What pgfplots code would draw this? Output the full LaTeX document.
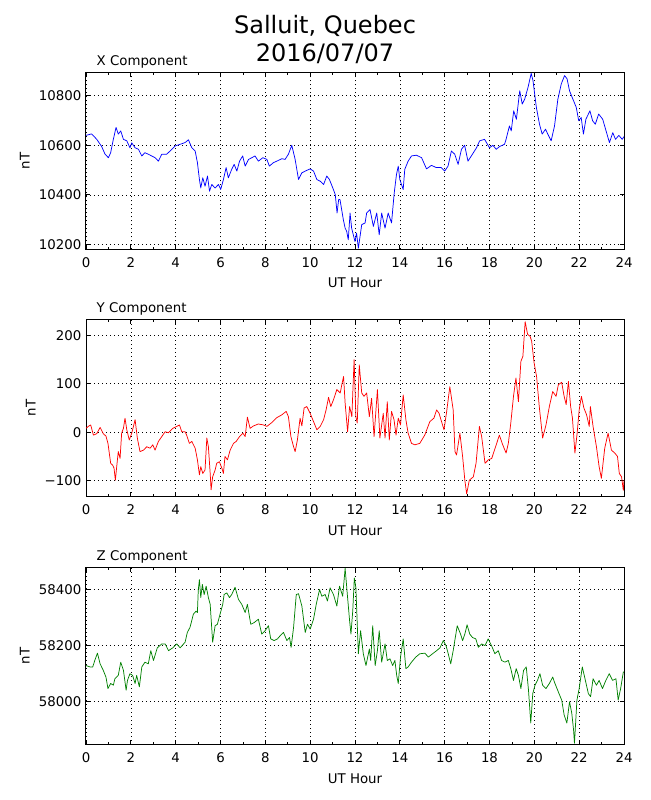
\documentclass[border=0pt]{standalone}
\usepackage{pgfplots}
\pgfplotsset{compat=1.18}
\usepackage{fontspec}
\setmainfont{DejaVu Sans}
\definecolor{mplgreen}{rgb}{0,0.5,0}
\pgfplotsset{
  magstyle/.style={
    scale only axis,
    width=403.5pt, height=133pt,
    anchor=south west,
    xmin=0, xmax=24,
    scaled y ticks=false, scaled x ticks=false,
    xtick={0,2,...,24},
    xticklabels={0,2,4,6,8,10,12,14,16,18,20,22,24},
    minor xtick={1,3,...,23},
    grid=major,
    major grid style={black, line width=0.5pt, dash pattern=on 0.75pt off 2.25pt},
    tick align=inside,
    major tick length=3.3pt,
    minor tick length=1.8pt,
    tick style={black, line width=0.6pt},
    axis line style={line width=0.75pt},
    font=\fontsize{10}{12}\selectfont,
    ticklabel style={font=\fontsize{10}{12}\selectfont},
    xticklabel style={yshift=-2.5pt},
    xlabel={UT Hour},
    xlabel style={at={(axis description cs:0.5,0)}, anchor=base, yshift=-28.9pt},
    ylabel={nT},
    every axis title/.style={at={(axis description cs:0,1)}, anchor=base west, xshift=4.5pt, yshift=5.3pt, font=\fontsize{10}{12}\selectfont},
    every axis plot/.append style={line width=0.55pt, line join=round},
  }
}
\begin{document}
\begin{tikzpicture}
\useasboundingbox (0,0) rectangle (487.5pt,600pt);
\node[anchor=base, font=\fontsize{18}{20}\selectfont] at (243.75pt,574.5pt) {Salluit, Quebec};
\node[anchor=base, font=\fontsize{18}{20}\selectfont] at (243.75pt,554.2pt) {2016/07/07};

\begin{axis}[magstyle, at={(64.5pt,412.9pt)},
  ymin=10180, ymax=10895,
  ytick={10200,10400,10600,10800},
  yticklabels={10200,10400,10600,10800},
  title={X Component}]
\addplot[blue] coordinates {
(0.00,10640) (0.25,10646) (0.48,10624) (0.70,10595) (0.85,10564) (1.00,10550) (1.10,10570) (1.22,10624) (1.34,10672) (1.44,10645) (1.55,10658) (1.67,10624) (1.82,10618) (1.96,10590) (2.04,10610) (2.19,10590) (2.34,10584) (2.49,10557) (2.63,10570) (2.78,10564) (2.93,10557) (3.08,10550) (3.23,10536) (3.38,10564) (3.60,10564) (3.75,10577) (3.97,10597) (4.20,10604) (4.42,10611) (4.57,10622) (4.72,10590) (4.87,10577) (4.97,10530) (5.06,10462) (5.12,10428) (5.21,10469) (5.31,10435) (5.42,10476) (5.51,10415) (5.61,10442) (5.76,10428) (5.91,10442) (6.01,10422) (6.13,10462) (6.25,10510) (6.35,10469) (6.50,10503) (6.61,10523) (6.73,10496) (6.85,10536) (6.99,10557) (7.10,10516) (7.25,10543) (7.40,10550) (7.54,10557) (7.69,10536) (7.89,10550) (8.07,10543) (8.18,10516) (8.36,10530) (8.51,10536) (8.74,10546) (8.88,10543) (9.03,10564) (9.18,10600) (9.33,10543) (9.48,10462) (9.63,10489) (9.78,10496) (10.00,10505) (10.15,10496) (10.30,10462) (10.45,10455) (10.60,10442) (10.74,10476) (10.86,10462) (11.01,10428) (11.12,10401) (11.20,10327) (11.27,10381) (11.33,10381) (11.48,10300) (11.56,10266) (11.63,10253) (11.70,10219) (11.78,10327) (11.85,10266) (12.00,10212) (12.07,10246) (12.15,10185) (12.30,10280) (12.45,10287) (12.52,10327) (12.67,10341) (12.82,10273) (12.97,10327) (13.08,10239) (13.19,10327) (13.34,10266) (13.48,10327) (13.63,10287) (13.75,10408) (13.85,10482) (13.93,10516) (14.00,10462) (14.15,10422) (14.22,10503) (14.37,10536) (14.52,10557) (14.74,10560) (14.97,10550) (15.19,10505) (15.41,10519) (15.63,10510) (15.85,10510) (16.00,10496) (16.15,10516) (16.30,10577) (16.45,10564) (16.60,10523) (16.75,10584) (16.89,10600) (17.04,10536) (17.19,10557) (17.42,10590) (17.56,10618) (17.78,10624) (18.00,10590) (18.15,10600) (18.30,10584) (18.45,10595) (18.67,10604) (18.74,10624) (18.89,10678) (18.97,10658) (19.08,10739) (19.20,10705) (19.35,10820) (19.46,10766) (19.57,10786) (19.72,10834) (19.86,10890) (19.94,10861) (20.09,10753) (20.23,10685) (20.35,10645) (20.50,10665) (20.60,10645) (20.75,10618) (20.90,10678) (21.05,10786) (21.20,10847) (21.35,10881) (21.46,10868) (21.57,10820) (21.72,10786) (21.87,10753) (21.98,10699) (22.09,10712) (22.19,10645) (22.30,10705) (22.48,10739) (22.60,10699) (22.72,10685) (22.87,10726) (23.05,10705) (23.20,10658) (23.35,10611) (23.50,10651) (23.62,10624) (23.77,10640) (23.92,10624) (24.00,10635)
};
\end{axis}

\begin{axis}[magstyle, at={(64.5pt,227.5pt)},
  ymin=-133, ymax=233,
  ytick={-100,0,100,200},
  yticklabels={−100,0,100,200},
  title={Y Component}]
\addplot[red] coordinates {
(0.00,8) (0.10,12) (0.21,15) (0.33,-6) (0.48,-3) (0.63,10) (0.77,-3) (0.89,-8) (0.98,-23) (1.10,-64) (1.19,-68) (1.25,-74) (1.31,-99) (1.37,-71) (1.44,-40) (1.52,-54) (1.59,-2) (1.67,8) (1.74,29) (1.82,5) (1.93,-16) (2.04,-2) (2.19,26) (2.29,-12) (2.41,-40) (2.56,-37) (2.71,-30) (2.86,-33) (2.98,-26) (3.08,-37) (3.23,-19) (3.38,-9) (3.53,1) (3.68,-1) (3.87,8) (4.05,12) (4.17,15) (4.27,1) (4.42,1) (4.49,-6) (4.61,-23) (4.72,-19) (4.87,-33) (4.97,-57) (5.06,-88) (5.12,-71) (5.21,-85) (5.31,-78) (5.39,-12) (5.46,-30) (5.54,-85) (5.58,-119) (5.65,-92) (5.76,-78) (5.83,-64) (5.95,-61) (6.06,-74) (6.13,-85) (6.20,-50) (6.31,-57) (6.43,-37) (6.58,-23) (6.70,-19) (6.85,-9) (7.00,-2) (7.10,-9) (7.20,31) (7.32,8) (7.47,13) (7.69,17) (7.92,15) (8.07,12) (8.29,20) (8.51,30) (8.74,36) (8.93,43) (9.03,32) (9.14,-9) (9.26,-30) (9.33,-40) (9.43,-16) (9.55,29) (9.63,13) (9.73,50) (9.85,53) (10.00,39) (10.15,22) (10.30,5) (10.45,12) (10.60,26) (10.71,46) (10.82,72) (10.92,53) (11.04,67) (11.19,88) (11.34,81) (11.42,100) (11.49,115) (11.56,60) (11.67,1) (11.76,53) (11.86,32) (11.96,150) (12.04,32) (12.10,19) (12.19,139) (12.30,81) (12.40,74) (12.52,81) (12.64,32) (12.74,70) (12.85,-9) (13.00,88) (13.11,-12) (13.26,39) (13.34,-12) (13.44,63) (13.53,-16) (13.63,43) (13.74,26) (13.83,-6) (13.93,29) (14.03,15) (14.15,77) (14.27,26) (14.37,-2) (14.52,-23) (14.67,-26) (14.89,-23) (15.11,-6) (15.34,22) (15.52,29) (15.64,46) (15.75,39) (15.86,22) (15.97,5) (16.09,43) (16.23,94) (16.38,46) (16.46,-40) (16.53,-47) (16.68,-2) (16.80,-50) (16.90,-99) (16.98,-127) (17.10,-99) (17.28,-92) (17.40,-64) (17.55,12) (17.65,-9) (17.80,-64) (17.95,-57) (18.10,-54) (18.25,-33) (18.44,-6) (18.59,-26) (18.74,-43) (18.84,-23) (18.95,19) (19.07,74) (19.18,112) (19.29,63) (19.40,146) (19.49,157) (19.59,228) (19.70,202) (19.81,198) (19.88,188) (19.99,143) (20.10,115) (20.22,53) (20.37,-12) (20.52,15) (20.67,53) (20.82,84) (20.97,74) (21.07,98) (21.22,103) (21.33,74) (21.42,57) (21.52,105) (21.62,53) (21.70,29) (21.81,-43) (21.91,-2) (22.00,46) (22.10,74) (22.21,50) (22.33,36) (22.45,12) (22.50,53) (22.62,12) (22.77,-30) (22.89,-71) (22.99,-95) (23.14,-33) (23.29,-2) (23.44,-37) (23.59,-43) (23.71,-50) (23.79,-85) (23.89,-92) (23.97,-120) (24.00,-99)
};
\end{axis}

\begin{axis}[magstyle, at={(64.5pt,41.5pt)},
  ymin=57847, ymax=58479,
  ytick={58000,58200,58400},
  yticklabels={58000,58200,58400},
  title={Z Component}]
\addplot[mplgreen] coordinates {
(0.00,58129) (0.18,58124) (0.30,58124) (0.40,58149) (0.51,58173) (0.63,58135) (0.77,58112) (0.89,58088) (0.98,58047) (1.10,58065) (1.22,58059) (1.29,58082) (1.44,58094) (1.55,58141) (1.67,58112) (1.79,58041) (1.85,58076) (1.96,58100) (2.08,58094) (2.19,58065) (2.26,58094) (2.38,58053) (2.49,58124) (2.63,58141) (2.78,58135) (2.89,58182) (3.01,58147) (3.18,58192) (3.38,58206) (3.53,58206) (3.68,58182) (3.87,58192) (4.05,58206) (4.20,58192) (4.42,58212) (4.52,58247) (4.64,58265) (4.79,58312) (4.91,58323) (4.97,58318) (5.01,58400) (5.06,58435) (5.12,58371) (5.19,58418) (5.27,58382) (5.36,58412) (5.46,58371) (5.54,58347) (5.65,58212) (5.76,58271) (5.86,58276) (5.98,58312) (6.10,58347) (6.16,58382) (6.28,58388) (6.40,58371) (6.50,58382) (6.65,58408) (6.80,58365) (6.95,58347) (7.10,58318) (7.20,58347) (7.35,58276) (7.50,58282) (7.69,58294) (7.84,58241) (7.99,58253) (8.14,58271) (8.24,58224) (8.39,58218) (8.54,58224) (8.66,58235) (8.81,58247) (8.96,58218) (9.08,58229) (9.15,58194) (9.26,58265) (9.38,58382) (9.48,58385) (9.63,58341) (9.78,58247) (9.88,58276) (10.00,58259) (10.15,58294) (10.27,58347) (10.42,58400) (10.52,58376) (10.67,58382) (10.77,58359) (10.89,58406) (11.04,58382) (11.19,58341) (11.31,58412) (11.45,58376) (11.56,58475) (11.67,58371) (11.76,58288) (11.82,58241) (11.90,58324) (11.97,58441) (12.04,58406) (12.15,58171) (12.25,58253) (12.37,58171) (12.49,58129) (12.64,58188) (12.70,58147) (12.79,58271) (12.90,58129) (13.00,58182) (13.08,58253) (13.19,58141) (13.34,58206) (13.44,58147) (13.56,58153) (13.68,58129) (13.78,58147) (13.86,58094) (13.93,58065) (14.03,58159) (14.15,58224) (14.27,58118) (14.37,58124) (14.52,58141) (14.71,58159) (14.89,58171) (15.12,58173) (15.27,58159) (15.46,58171) (15.64,58182) (15.79,58192) (15.94,58218) (16.06,58200) (16.16,58171) (16.27,58135) (16.38,58182) (16.56,58271) (16.71,58241) (16.80,58218) (16.90,58241) (17.00,58274) (17.12,58241) (17.24,58229) (17.39,58224) (17.50,58194) (17.65,58206) (17.80,58200) (17.94,58224) (18.09,58200) (18.24,58171) (18.39,58182) (18.54,58147) (18.69,58141) (18.84,58147) (18.95,58118) (19.07,58076) (19.19,58118) (19.29,58094) (19.40,58047) (19.52,58112) (19.64,58124) (19.74,58041) (19.84,57924) (19.93,58029) (20.03,58059) (20.14,58076) (20.25,58100) (20.37,58059) (20.52,58047) (20.67,58065) (20.82,58088) (20.92,58065) (21.07,58035) (21.22,58006) (21.33,57953) (21.45,57924) (21.57,58000) (21.67,57959) (21.75,57900) (21.79,57852) (21.90,58006) (22.00,58047) (22.14,58124) (22.26,58082) (22.41,58029) (22.51,58018) (22.62,58082) (22.77,58059) (22.89,58076) (23.04,58047) (23.19,58076) (23.34,58100) (23.49,58076) (23.64,58082) (23.74,58006) (23.85,58047) (23.97,58106) (24.00,58106)
};
\end{axis}
\end{tikzpicture}
\end{document}
